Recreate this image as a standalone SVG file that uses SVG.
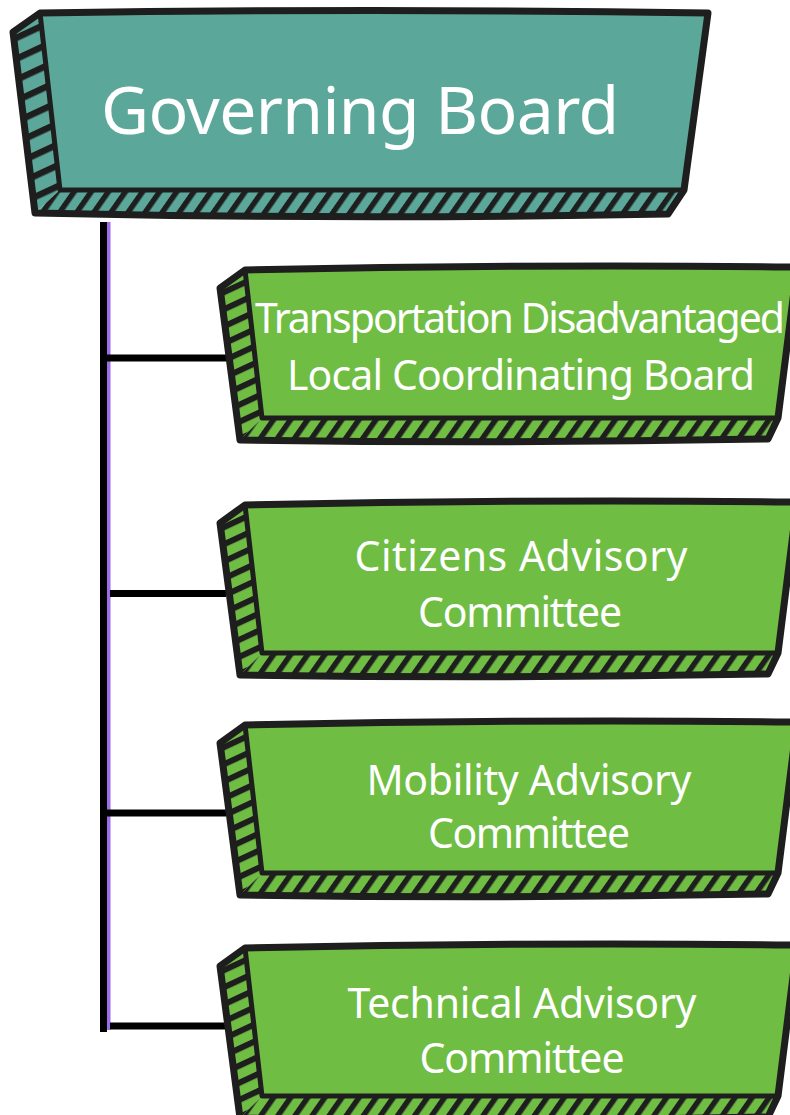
<svg xmlns="http://www.w3.org/2000/svg" xmlns:xlink="http://www.w3.org/1999/xlink" width="790" height="1115" viewBox="0 0 790 1115">
<style>
.ol{fill:none;stroke:#1e1e1e;stroke-width:7;stroke-linejoin:round;stroke-linecap:round}
.il{fill:none;stroke:#1e1e1e;stroke-width:5;stroke-linejoin:round;stroke-linecap:round}
.teal{fill:#5ba89b}
.green{fill:#70bd44}
.t{fill:#ffffff;font-family:"Noto Sans","Liberation Sans",sans-serif;text-anchor:middle}
.big{font-size:66px}
.med{font-size:41px}
.conn{fill:#000000}
.purp{fill:#9d6ce8}
</style>
<defs>
<pattern id="hsT" patternUnits="userSpaceOnUse" width="40" height="19" patternTransform="rotate(-25)"><rect x="0" y="0" width="40" height="6.5" fill="#1e1e1e"/></pattern>
<pattern id="hsG" patternUnits="userSpaceOnUse" width="40" height="15.5" patternTransform="rotate(-25)"><rect x="0" y="0" width="40" height="6" fill="#1e1e1e"/></pattern>
<pattern id="hb" patternUnits="userSpaceOnUse" width="14" height="40" patternTransform="rotate(35)"><rect x="0" y="0" width="5.5" height="40" fill="#1e1e1e"/></pattern>
<g id="gbox">
<path class="green" d="M245,270 Q520,264 797,267 L778,418 L262,418 Z"/>
<path class="green" d="M220,288 L245,270 L262,418 L240,440 Z"/>
<path fill="url(#hsG)" d="M220,288 L245,270 L262,418 L240,440 Z"/>
<path class="green" d="M262,418 L778,418 L768,439 Q500,444 240,440 Z"/>
<path fill="url(#hb)" d="M262,418 L778,418 L768,439 Q500,444 240,440 Z"/>
<path class="ol" d="M220,288 L245,270 Q520,264 797,267 L778,418 L768,439 Q500,444 240,440 Z"/>
<path class="il" d="M245,270 L262,418 L778,418"/>
</g>
</defs>

<g id="connectors">
<rect class="conn" x="100" y="222" width="7" height="810"/>
<rect class="purp" x="107" y="222" width="3.5" height="808"/>
<rect class="conn" x="104" y="354.5" width="124" height="7"/>
<rect class="conn" x="110" y="590" width="116" height="7"/>
<rect class="conn" x="100" y="809.5" width="126" height="7"/>
<rect class="conn" x="110" y="1022.5" width="116" height="7"/>
</g>

<g id="governing-board">
<path class="teal" d="M40,13 Q370,8 708,13 L684,190 L60,190 Z"/>
<path class="teal" d="M13,32 L40,13 L60,190 L35,213 Z"/>
<path fill="url(#hsT)" d="M13,32 L40,13 L60,190 L35,213 Z"/>
<path class="teal" d="M60,190 L684,190 L668,214 Q350,220 35,213 Z"/>
<path fill="url(#hb)" d="M60,190 L684,190 L668,214 Q350,220 35,213 Z"/>
<path class="ol" d="M13,32 L40,13 Q370,8 708,13 L684,190 L668,214 Q350,220 35,213 Z"/>
<path class="il" d="M40,13 L60,190 L684,190"/>
<text class="t big" x="360" y="134" textLength="518">Governing Board</text>
</g>

<g id="td-lcb">
<use xlink:href="#gbox" href="#gbox"/>
<text class="t med" x="520" y="333" textLength="530">Transportation Disadvantaged</text>
<text class="t med" x="521" y="390" textLength="468">Local Coordinating Board</text>
</g>

<g id="cac">
<use xlink:href="#gbox" href="#gbox" y="235"/>
<text class="t med" x="521" y="571" textLength="333">Citizens Advisory</text>
<text class="t med" x="520" y="627" textLength="204">Committee</text>
</g>

<g id="mac">
<use xlink:href="#gbox" href="#gbox" y="455"/>
<text class="t med" x="529" y="795" textLength="325">Mobility Advisory</text>
<text class="t med" x="529" y="848" textLength="202">Committee</text>
</g>

<g id="tac">
<use xlink:href="#gbox" href="#gbox" y="678"/>
<text class="t med" x="522" y="1018" textLength="349">Technical Advisory</text>
<text class="t med" x="522" y="1073" textLength="205">Committee</text>
</g>
</svg>
